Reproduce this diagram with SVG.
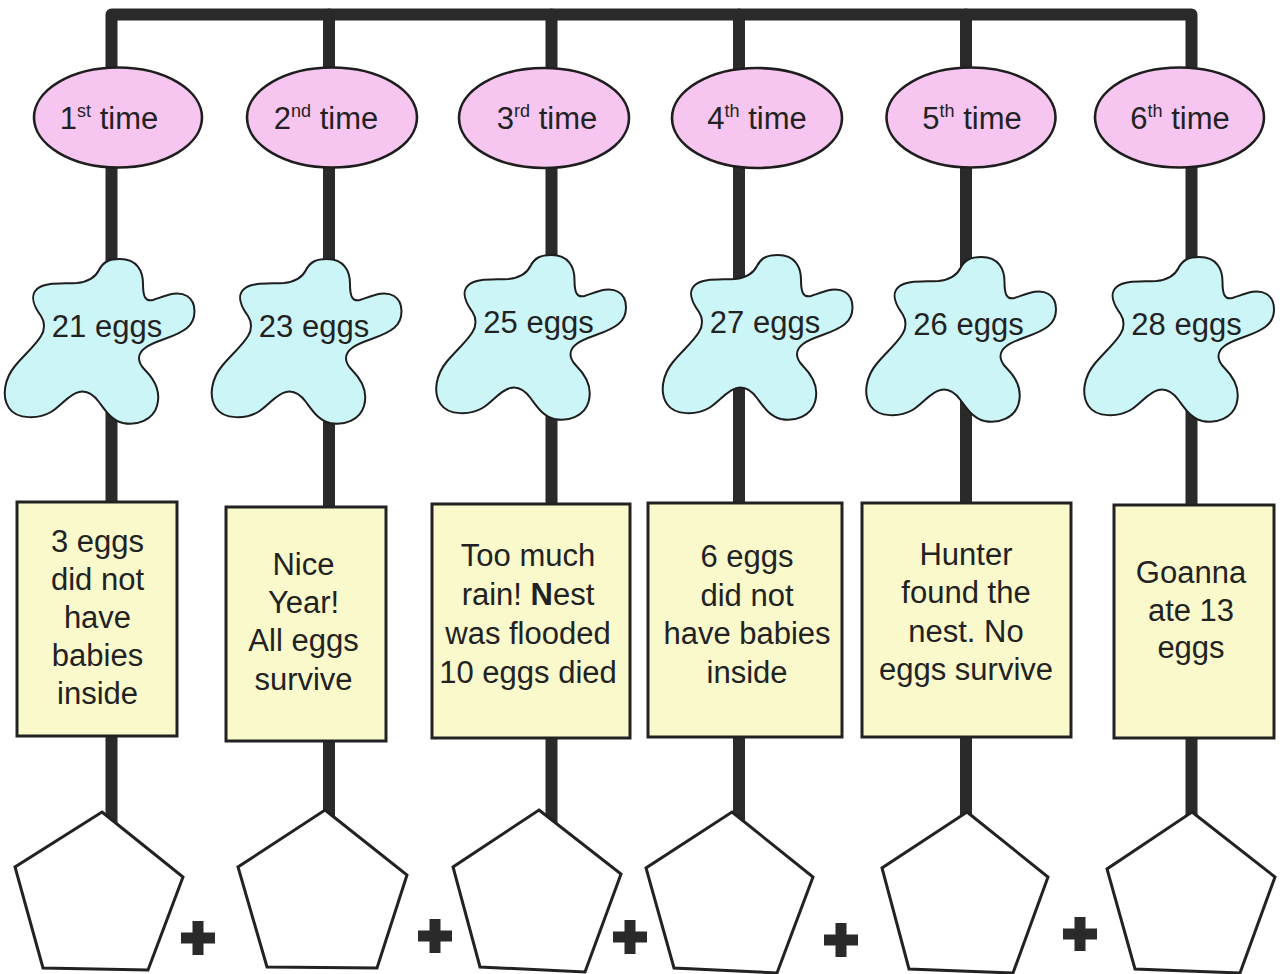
<svg xmlns="http://www.w3.org/2000/svg" xmlns:xlink="http://www.w3.org/1999/xlink" width="1284" height="974" viewBox="0 0 1284 974">
<style>
  .wire { stroke:#2a2a2a; stroke-width:12; fill:none; stroke-linecap:round; stroke-linejoin:round; }
  .oval { fill:#F6C6F1; stroke:#1e1e1e; stroke-width:2.6; }
  .blob { fill:#CCF5F7; stroke:#1e1e1e; stroke-width:2; }
  .box { fill:#F9F9CB; stroke:#222; stroke-width:3; }
  .pent { fill:#fff; stroke:#222; stroke-width:3; stroke-linejoin:miter; }
  .plus { fill:#2a2a2a; }
  text { font-family:"Liberation Sans", Arial, sans-serif; font-size:31px; fill:#222; text-anchor:middle; }
  .sup { font-size:18px; }
</style>
<defs>
  <path id="blobshape" d="M13,-67 C30,-67 36,-55 36,-42 C36,-30 38,-24 46,-26 C58,-30 70,-36 80,-30 C90,-24 90,-6 80,2 C68,12 48,14 38,22 C30,28 30,36 38,44 C48,54 54,66 50,80 C46,94 30,100 16,97 C4,94 -2,84 -8,76 C-14,68 -20,64 -28,66 C-38,68 -46,80 -56,86 C-68,93 -90,94 -98,82 C-106,70 -102,52 -92,40 C-84,30 -72,20 -66,10 C-62,4 -62,-4 -66,-10 C-72,-18 -78,-30 -70,-37 C-62,-44 -45,-42 -30,-43 C-20,-44 -12,-48 -8,-56 C-4,-64 2,-67 13,-67 Z"/>
  <path id="plusshape" d="M-17,-5.5 H-5.5 V-17 H5.5 V-5.5 H17 V5.5 H5.5 V17 H-5.5 V5.5 H-17 Z"/>
</defs>

<g id="connectors">
  <path class="wire" d="M111.5,830 V14.5 H1191.5 V830"/>
  <line class="wire" x1="329" y1="14.5" x2="329" y2="830"/>
  <line class="wire" x1="551.5" y1="14.5" x2="551.5" y2="830"/>
  <line class="wire" x1="739" y1="14.5" x2="739" y2="830"/>
  <line class="wire" x1="966" y1="14.5" x2="966" y2="830"/>
</g>

<g id="time1"><ellipse class="oval" cx="118" cy="117.5" rx="84" ry="50"/><text x="109" y="129">1<tspan class="sup" dy="-12">st</tspan><tspan dy="12"> time</tspan></text></g>
<g id="time2"><ellipse class="oval" cx="332" cy="117.5" rx="85" ry="50"/><text x="326" y="129">2<tspan class="sup" dy="-12">nd</tspan><tspan dy="12"> time</tspan></text></g>
<g id="time3"><ellipse class="oval" cx="544" cy="118" rx="85" ry="50"/><text x="547" y="129">3<tspan class="sup" dy="-12">rd</tspan><tspan dy="12"> time</tspan></text></g>
<g id="time4"><ellipse class="oval" cx="757" cy="118" rx="85" ry="50"/><text x="757" y="129">4<tspan class="sup" dy="-12">th</tspan><tspan dy="12"> time</tspan></text></g>
<g id="time5"><ellipse class="oval" cx="971" cy="117.5" rx="84.5" ry="50"/><text x="972" y="129">5<tspan class="sup" dy="-12">th</tspan><tspan dy="12"> time</tspan></text></g>
<g id="time6"><ellipse class="oval" cx="1179.5" cy="117.5" rx="84.5" ry="50"/><text x="1180" y="129">6<tspan class="sup" dy="-12">th</tspan><tspan dy="12"> time</tspan></text></g>

<g id="eggs1"><use xlink:href="#blobshape" href="#blobshape" class="blob" transform="translate(107,326)"/><text x="107" y="337">21 eggs</text></g>
<g id="eggs2"><use xlink:href="#blobshape" href="#blobshape" class="blob" transform="translate(314,326)"/><text x="314" y="337">23 eggs</text></g>
<g id="eggs3"><use xlink:href="#blobshape" href="#blobshape" class="blob" transform="translate(538.5,322)"/><text x="538.5" y="333">25 eggs</text></g>
<g id="eggs4"><use xlink:href="#blobshape" href="#blobshape" class="blob" transform="translate(765,322)"/><text x="765" y="333">27 eggs</text></g>
<g id="eggs5"><use xlink:href="#blobshape" href="#blobshape" class="blob" transform="translate(968.5,324)"/><text x="968.5" y="335">26 eggs</text></g>
<g id="eggs6"><use xlink:href="#blobshape" href="#blobshape" class="blob" transform="translate(1186.5,324)"/><text x="1186.5" y="335">28 eggs</text></g>

<g id="event1"><rect class="box" x="17" y="502" width="160" height="234"/>
  <text x="97.5" y="552">3 eggs</text><text x="97.5" y="590">did not</text><text x="97.5" y="628">have</text><text x="97.5" y="666">babies</text><text x="97.5" y="704">inside</text></g>
<g id="event2"><rect class="box" x="226" y="507" width="160" height="234"/>
  <text x="303.5" y="575">Nice</text><text x="303.5" y="613">Year!</text><text x="303.5" y="651">All eggs</text><text x="303.5" y="690">survive</text></g>
<g id="event3"><rect class="box" x="432" y="504" width="198" height="234"/>
  <text x="528" y="566">Too much</text><text x="528" y="605">rain! <tspan font-weight="bold">N</tspan>est</text><text x="528" y="644">was flooded</text><text x="528" y="683">10 eggs died</text></g>
<g id="event4"><rect class="box" x="648" y="503" width="194" height="234"/>
  <text x="747" y="567">6 eggs</text><text x="747" y="606">did not</text><text x="747" y="644">have babies</text><text x="747" y="683">inside</text></g>
<g id="event5"><rect class="box" x="862" y="503" width="209" height="234"/>
  <text x="966" y="565">Hunter</text><text x="966" y="603">found the</text><text x="966" y="642">nest. No</text><text x="966" y="680">eggs survive</text></g>
<g id="event6"><rect class="box" x="1114" y="505" width="160" height="233"/>
  <text x="1191" y="583">Goanna</text><text x="1191" y="621">ate 13</text><text x="1191" y="658">eggs</text></g>

<g id="result1"><polygon class="pent" points="102,812 183,877 148,970 43,968 15,867"/></g>
<g id="result2"><polygon class="pent" points="325,810 407,875 377,968 267,967 238,867"/></g>
<g id="result3"><polygon class="pent" points="539,810 621,874 585,972 480,967 453,867"/></g>
<g id="result4"><polygon class="pent" points="732,812 813,877 777,973 674,968 646,868"/></g>
<g id="result5"><polygon class="pent" points="967,812 1048,877 1013,973 909,969 882,868"/></g>
<g id="result6"><polygon class="pent" points="1192,812 1275,877 1240,973 1135,969 1107,869"/></g>

<g id="plus-signs">
  <use xlink:href="#plusshape" href="#plusshape" class="plus" transform="translate(198,938)"/>
  <use xlink:href="#plusshape" href="#plusshape" class="plus" transform="translate(435,936)"/>
  <use xlink:href="#plusshape" href="#plusshape" class="plus" transform="translate(630,937)"/>
  <use xlink:href="#plusshape" href="#plusshape" class="plus" transform="translate(841,940)"/>
  <use xlink:href="#plusshape" href="#plusshape" class="plus" transform="translate(1080,934)"/>
</g>
</svg>
